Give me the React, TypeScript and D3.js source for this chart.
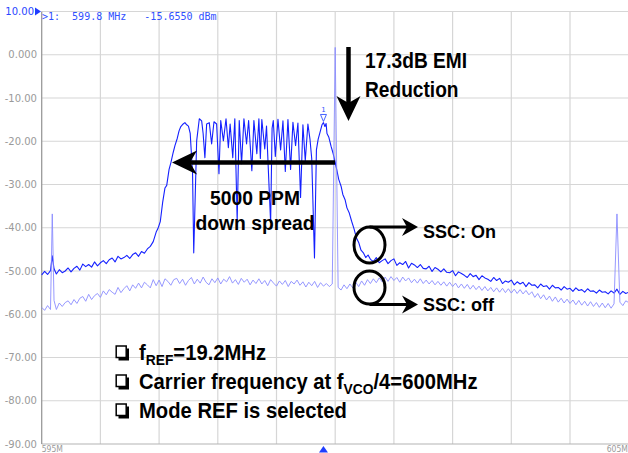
import React, { useEffect, useRef } from 'react';
import * as d3 from 'd3';

const W = 628;
const H = 453;

// axis ticks as the analyzer prints them
const levelTicks = [10, 0, -10, -20, -30, -40, -50, -60, -70, -80, -90];
const levelLabels = ['10.00', '0.000', '-10.00', '-20.00', '-30.00', '-40.00', '-50.00', '-60.00', '-70.00', '-80.00', '-90.00'];
const freqGrid = [596, 597, 598, 599, 600, 601, 602, 603, 604];
const freqLabels: [number, string][] = [[595, '595M'], [605, '605M']];

const markerReadout = '>1:  599.8 MHz   -15.6550 dBm';
const markerFreq = 599.8;
const markerLevel = -15.655;

// SSC on trace, [MHz, dBm]
const sscOnTrace: [number, number][] = [
  [595.00, -50.9], [595.05, -50.1], [595.10, -50.8], [595.15, -49.9], [595.18, -46.5], [595.21, -49.5], [595.25, -50.7], [595.30, -49.7],
  [595.35, -50.4], [595.40, -50.0], [595.45, -49.3], [595.50, -50.2], [595.55, -49.4], [595.60, -48.9], [595.65, -49.8], [595.70, -48.4],
  [595.75, -49.0], [595.80, -48.5], [595.85, -49.1], [595.90, -47.9], [595.95, -48.8], [596.00, -48.1], [596.05, -47.6], [596.10, -48.3],
  [596.15, -47.4], [596.20, -47.0], [596.25, -47.9], [596.30, -46.6], [596.35, -47.2], [596.40, -46.9], [596.45, -46.4], [596.50, -47.1],
  [596.55, -46.2], [596.60, -45.8], [596.65, -46.6], [596.70, -45.5], [596.75, -45.9], [596.80, -44.9], [596.85, -44.3],
  [596.90, -43.2], [596.95, -41.0], [596.98, -40.2], [597.02, -38.6], [597.06, -34.2], [597.10, -30.8], [597.13, -30.2], [597.17, -26.5],
  [597.20, -25.0], [597.24, -22.6], [597.27, -21.0], [597.31, -19.3], [597.34, -17.6], [597.37, -16.6], [597.41, -16.0], [597.44, -15.7],
  [597.47, -16.2], [597.50, -16.5], [597.53, -18.2], [597.57, -27.5], [597.59, -45.8], [597.64, -19.9],
  [597.685, -14.8], [597.725, -15.3], [597.75, -18.2], [597.78, -23.8], [597.81, -16.0], [597.855, -15.7], [597.895, -20.6], [597.935, -15.5],
  [597.98, -16.0], [598.02, -27.5], [598.05, -15.2], [598.095, -19.9], [598.14, -14.8], [598.18, -21.5], [598.21, -16.0], [598.255, -23.8],
  [598.29, -14.8], [598.33, -38.4], [598.365, -15.2], [598.405, -25.2], [598.445, -14.8], [598.49, -20.6], [598.525, -15.2], [598.58, -26.8],
  [598.615, -15.2], [598.665, -22.9], [598.70, -14.8], [598.725, -24.0], [598.75, -15.0], [598.80, -21.8], [598.83, -16.5], [598.87, -29.5],
  [598.90, -38.8], [598.925, -17.0], [598.945, -15.2], [598.98, -23.5], [599.025, -14.9], [599.07, -22.0], [599.11, -15.3], [599.15, -27.0],
  [599.195, -15.0], [599.24, -26.5], [599.28, -15.6], [599.325, -21.0], [599.365, -15.8], [599.41, -33.0], [599.45, -16.2], [599.49, -24.5],
  [599.535, -16.0], [599.57, -19.5], [599.60, -24.0], [599.647, -47.0], [599.68, -22.0], [599.71, -19.5], [599.74, -18.0], [599.775, -16.2],
  [599.80, -15.7], [599.825, -16.6], [599.845, -15.9], [599.86, -18.2], [599.89, -19.0], [599.93, -21.2], [599.96, -22.6], [600.00, -24.9],
  [600.03, -26.8], [600.06, -28.8], [600.10, -30.4], [600.13, -32.3], [600.17, -33.6], [600.20, -35.4], [600.24, -36.6], [600.28, -38.5],
  [600.32, -40.2], [600.36, -42.3], [600.40, -43.4], [600.44, -45.2], [600.48, -45.8], [600.52, -46.9], [600.56, -46.3], [600.60, -47.3],
  [600.65, -47.8], [600.70, -46.9], [600.75, -48.1], [600.80, -47.6], [600.85, -47.2], [600.90, -48.3], [600.95, -47.6], [601.00, -47.2],
  [601.05, -48.7], [601.10, -48.1], [601.15, -48.5], [601.20, -47.8], [601.25, -49.3], [601.30, -48.2], [601.35, -48.6], [601.40, -49.2],
  [601.45, -48.5], [601.50, -49.4], [601.55, -49.5], [601.60, -48.9], [601.65, -50.1], [601.70, -49.2], [601.75, -49.6], [601.80, -50.2],
  [601.85, -49.5], [601.90, -50.3], [601.95, -50.4], [602.00, -49.9], [602.05, -51.1], [602.10, -50.2], [602.15, -50.6], [602.20, -51.0],
  [602.25, -51.5], [602.30, -50.6], [602.35, -51.3], [602.40, -51.0], [602.45, -52.0], [602.50, -51.1], [602.55, -51.6], [602.60, -51.9],
  [602.65, -52.4], [602.70, -51.5], [602.75, -52.2], [602.80, -51.7], [602.85, -52.9], [602.90, -52.3], [602.95, -52.6], [603.00, -52.1],
  [603.05, -53.2], [603.10, -52.5], [603.15, -53.0], [603.20, -52.6], [603.25, -53.6], [603.30, -52.7], [603.35, -53.3], [603.40, -53.2],
  [603.45, -53.9], [603.50, -53.0], [603.55, -53.6], [603.60, -53.4], [603.65, -54.2], [603.70, -53.3], [603.75, -53.9], [603.80, -53.8],
  [603.85, -54.4], [603.90, -53.6], [603.95, -54.2], [604.00, -54.0], [604.05, -54.7], [604.10, -53.9], [604.15, -54.5], [604.20, -54.3],
  [604.25, -54.9], [604.30, -54.1], [604.35, -54.7], [604.40, -54.6], [604.45, -55.1], [604.50, -54.4], [604.55, -54.9], [604.60, -54.8],
  [604.65, -55.3], [604.70, -54.6], [604.75, -55.1], [604.80, -54.2], [604.85, -55.4], [604.90, -54.7], [604.95, -55.2], [605.00, -54.9],
];

// SSC off trace, [MHz, dBm]
const sscOffTrace: [number, number][] = [
  [595.00, -58.4], [595.05, -59.1], [595.10, -58.0], [595.15, -58.9], [595.18, -36.8], [595.21, -56.8], [595.25, -58.9], [595.30, -57.4],
  [595.35, -58.2], [595.40, -57.3], [595.45, -56.9], [595.50, -57.8], [595.55, -56.6], [595.60, -57.5], [595.65, -56.3], [595.70, -55.9],
  [595.75, -57.0], [595.80, -55.4], [595.85, -56.6], [595.90, -55.7], [595.95, -55.2], [596.00, -56.1], [596.05, -54.6], [596.10, -55.5],
  [596.15, -54.3], [596.20, -54.9], [596.25, -55.4], [596.30, -53.8], [596.35, -55.0], [596.40, -54.1], [596.45, -53.4], [596.50, -54.6],
  [596.55, -53.2], [596.60, -54.0], [596.65, -52.8], [596.70, -53.9], [596.75, -52.6], [596.80, -53.2], [596.85, -53.9], [596.90, -52.0],
  [596.95, -53.4], [597.00, -52.1], [597.05, -53.6], [597.10, -51.8], [597.15, -52.4], [597.20, -53.3], [597.25, -52.0], [597.30, -51.7],
  [597.35, -52.9], [597.40, -51.9], [597.45, -53.3], [597.50, -52.2], [597.55, -51.5], [597.60, -53.0], [597.65, -51.9], [597.70, -52.8],
  [597.75, -51.4], [597.80, -52.6], [597.85, -53.2], [597.90, -51.8], [597.95, -52.7], [598.00, -51.6], [598.05, -53.0], [598.10, -51.9],
  [598.15, -52.5], [598.20, -51.3], [598.25, -52.8], [598.30, -52.0], [598.35, -53.1], [598.40, -51.7], [598.45, -52.6], [598.50, -51.9],
  [598.55, -53.2], [598.60, -52.1], [598.65, -52.9], [598.70, -51.8], [598.75, -53.0], [598.80, -52.2], [598.85, -53.4], [598.90, -52.0],
  [598.95, -52.8], [599.00, -53.5], [599.05, -52.3], [599.10, -53.1], [599.15, -52.2], [599.20, -53.6], [599.25, -52.4], [599.30, -53.0],
  [599.35, -52.1], [599.40, -53.3], [599.45, -52.5], [599.50, -53.7], [599.55, -52.6], [599.60, -53.4], [599.65, -52.4], [599.70, -53.8],
  [599.75, -52.7], [599.80, -53.5], [599.85, -52.9], [599.90, -53.6], [599.95, -53.0], [600.00, 1.7], [600.05, -53.8], [600.10, -54.4],
  [600.15, -53.2], [600.20, -54.1], [600.25, -53.0], [600.30, -53.9], [600.35, -52.6], [600.40, -53.6], [600.45, -52.3], [600.50, -53.3],
  [600.55, -52.0], [600.60, -52.9], [600.65, -51.8], [600.70, -52.7], [600.75, -51.6], [600.80, -52.5], [600.85, -51.4], [600.90, -52.4],
  [600.95, -51.3], [601.00, -52.2], [601.05, -51.5], [601.10, -52.6], [601.15, -51.4], [601.20, -52.3], [601.25, -51.6], [601.30, -52.7],
  [601.35, -51.9], [601.40, -52.8], [601.45, -51.8], [601.50, -52.9], [601.55, -52.1], [601.60, -53.0], [601.65, -52.2], [601.70, -53.2],
  [601.75, -52.4], [601.80, -53.3], [601.85, -52.5], [601.90, -53.5], [601.95, -52.6], [602.00, -53.6], [602.05, -52.8], [602.10, -53.9],
  [602.15, -53.0], [602.20, -54.0], [602.25, -53.1], [602.30, -54.2], [602.35, -53.3], [602.40, -54.3], [602.45, -53.5], [602.50, -54.5],
  [602.55, -53.6], [602.60, -54.6], [602.65, -53.8], [602.70, -54.8], [602.75, -53.9], [602.80, -54.9], [602.85, -54.0], [602.90, -55.0],
  [602.95, -54.1], [603.00, -55.1], [603.05, -54.2], [603.10, -55.2], [603.15, -54.3], [603.20, -55.3], [603.25, -54.5], [603.30, -55.5],
  [603.35, -54.8], [603.40, -56.1], [603.45, -55.2], [603.50, -56.4], [603.55, -55.5], [603.60, -56.7], [603.65, -55.8], [603.70, -57.0],
  [603.75, -56.0], [603.80, -57.2], [603.85, -56.3], [603.90, -57.4], [603.95, -56.5], [604.00, -57.5], [604.05, -56.7], [604.10, -57.8],
  [604.15, -56.8], [604.20, -57.9], [604.25, -57.0], [604.30, -58.1], [604.35, -57.1], [604.40, -58.2], [604.45, -57.3], [604.50, -58.4],
  [604.55, -57.4], [604.60, -58.5], [604.65, -57.5], [604.70, -58.6], [604.75, -57.6], [604.80, -36.8], [604.85, -57.2], [604.90, -58.0],
  [604.95, -56.9], [605.00, -57.3],
];

// bullet notes, parts marked sub are subscripts
const notes = [
  [{ t: 'f' }, { t: 'REF', sub: true }, { t: '=19.2MHz' }],
  [{ t: 'Carrier frequency at f' }, { t: 'VCO', sub: true }, { t: '/4=600MHz' }],
  [{ t: 'Mode REF is selected' }],
];

const BOLD = 'Liberation Sans, Arial, sans-serif';

const App = () => {
  const svgRef = useRef<SVGSVGElement>(null);

  useEffect(() => {
    const svg = d3.select(svgRef.current);
    svg.selectAll('*').remove();

    const x = d3.scaleLinear().domain([595, 605]).range([41.7, 628.7]);
    const y = d3.scaleLinear().domain([10, -90]).range([11.5, 444]);

    svg.append('rect').attr('width', W).attr('height', H).attr('fill', '#fff');

    // grid
    const grid = svg.append('g');
    grid.selectAll('line.v').data(freqGrid).enter().append('line')
      .attr('x1', d => x(d)).attr('x2', d => x(d))
      .attr('y1', y(10)).attr('y2', y(-90))
      .attr('stroke', '#d6d6d6').attr('stroke-width', 1.2);
    grid.selectAll('line.h').data(levelTicks).enter().append('line')
      .attr('x1', x(595)).attr('x2', W)
      .attr('y1', d => y(d)).attr('y2', d => y(d))
      .attr('stroke', d => (d === -90 ? '#b4b4b4' : '#d6d6d6')).attr('stroke-width', 1.2);
    svg.append('line')
      .attr('x1', x(595)).attr('x2', x(595)).attr('y1', y(10)).attr('y2', y(-90))
      .attr('stroke', '#9a9a9a').attr('stroke-width', 1.3);

    // level labels
    svg.append('g').selectAll('text').data(levelTicks).enter().append('text')
      .attr('x', (d, i) => (i === 0 ? 34 : 37))
      .attr('y', d => y(d))
      .attr('dy', '0.35em')
      .attr('text-anchor', 'end')
      .attr('font-family', 'DejaVu Sans, sans-serif')
      .attr('font-size', 10)
      .attr('fill', (d, i) => (i === 0 ? '#2a46ff' : '#9a9a9a'))
      .text((d, i) => levelLabels[i]);

    // reference level marker
    svg.append('path').attr('d', 'M35,7.5 L41,11.5 L35,15.5 Z').attr('fill', '#1f3dff');

    // frequency labels
    svg.append('g').selectAll('text').data(freqLabels).enter().append('text')
      .attr('transform', d => `translate(${x(d[0]) + (d[0] === 595 ? 0 : -22)},452) scale(0.85,1)`)
      .attr('font-family', 'DejaVu Sans, sans-serif')
      .attr('font-size', 9)
      .attr('fill', '#9a9a9a')
      .text(d => d[1]);

    // center marker on the frequency axis
    const mx = x(markerFreq);
    svg.append('path').attr('d', `M${mx - 4.5},452.5 L${mx},446 L${mx + 4.5},452.5 Z`).attr('fill', '#1f3dff');

    // marker readout
    svg.append('text')
      .attr('x', 42).attr('y', 19.5)
      .attr('font-family', 'DejaVu Sans Mono, monospace')
      .attr('font-size', 10)
      .attr('fill', '#3050ff')
      .style('white-space', 'pre')
      .text(markerReadout);

    const line = d3.line<[number, number]>()
      .x(d => x(d[0]))
      .y(d => y(d[1]));

    svg.append('path').datum(sscOnTrace)
      .attr('d', line)
      .attr('fill', 'none')
      .attr('stroke', '#1420ff')
      .attr('stroke-width', 1.1)
      .attr('stroke-linejoin', 'round');

    svg.append('path').datum(sscOffTrace)
      .attr('d', line)
      .attr('fill', 'none')
      .attr('stroke', '#8a8cff')
      .attr('stroke-width', 0.9)
      .attr('stroke-linejoin', 'round');

    // marker 1 on the trace
    const my = y(markerLevel);
    svg.append('path')
      .attr('d', `M${mx - 3},${my - 8} L${mx + 3},${my - 8} L${mx},${my - 1} Z`)
      .attr('fill', 'none').attr('stroke', '#3050ff').attr('stroke-width', 0.9);
    svg.append('text')
      .attr('x', mx).attr('y', my - 10)
      .attr('text-anchor', 'middle')
      .attr('font-family', 'DejaVu Sans, sans-serif')
      .attr('font-size', 7)
      .attr('fill', '#3050ff')
      .text('1');

    // annotations
    const ann = svg.append('g').attr('fill', '#000');

    // horizontal spread arrow
    ann.append('line')
      .attr('x1', 186).attr('x2', 335).attr('y1', 162.5).attr('y2', 162.5)
      .attr('stroke', '#000').attr('stroke-width', 4.5);
    ann.append('path').attr('d', 'M172,162.5 L197,150.5 L190,162.5 L197,174.5 Z');

    // vertical EMI arrow
    ann.append('line')
      .attr('x1', 348.5).attr('x2', 348.5).attr('y1', 47).attr('y2', 108)
      .attr('stroke', '#000').attr('stroke-width', 4.5);
    ann.append('path').attr('d', 'M348.5,121 L336.5,96 L348.5,103 L360.5,96 Z');

    const bigText = (tx: number, ty: number, s: string, size: number, sx: number, anchor = 'start') => {
      ann.append('text')
        .attr('transform', `translate(${tx},${ty}) scale(${sx},1)`)
        .attr('text-anchor', anchor)
        .attr('font-family', BOLD)
        .attr('font-weight', 'bold')
        .attr('font-size', size)
        .text(s);
    };
    bigText(365, 68, '17.3dB EMI', 22, 0.87);
    bigText(365, 97, 'Reduction', 22, 0.87);
    bigText(255, 205, '5000 PPM', 21, 0.92, 'middle');
    bigText(255, 230, 'down spread', 21, 0.92, 'middle');

    // SSC circles and arrows
    ann.append('ellipse').attr('cx', 369.5).attr('cy', 245).attr('rx', 15.5).attr('ry', 18)
      .attr('fill', 'none').attr('stroke', '#000').attr('stroke-width', 3);
    ann.append('ellipse').attr('cx', 369.5).attr('cy', 287.5).attr('rx', 15.5).attr('ry', 16.5)
      .attr('fill', 'none').attr('stroke', '#000').attr('stroke-width', 3);
    ann.append('line').attr('x1', 369.5).attr('x2', 410).attr('y1', 227).attr('y2', 227)
      .attr('stroke', '#000').attr('stroke-width', 3);
    ann.append('path').attr('d', 'M418,227 L402,218 L407,227 L402,236 Z');
    ann.append('line').attr('x1', 369.5).attr('x2', 410).attr('y1', 304.5).attr('y2', 304.5)
      .attr('stroke', '#000').attr('stroke-width', 3);
    ann.append('path').attr('d', 'M418,304.5 L402,295.5 L407,304.5 L402,313.5 Z');
    bigText(423, 238, 'SSC: On', 18, 1);
    bigText(423, 311, 'SSC: off', 18, 1);

    // bullet notes
    notes.forEach((parts, i) => {
      const by = 360 + i * 29;
      ann.append('rect').attr('x', 118.5).attr('y', by - 11.5).attr('width', 10.5).attr('height', 12).attr('fill', '#000');
      ann.append('rect').attr('x', 116.2).attr('y', by - 14).attr('width', 10).attr('height', 11.5)
        .attr('fill', '#fff').attr('stroke', '#000').attr('stroke-width', 1.5);
      const t = ann.append('text')
        .attr('transform', `translate(139,${by}) scale(0.92,1)`)
        .attr('font-family', BOLD)
        .attr('font-weight', 'bold')
        .attr('font-size', 22);
      let shifted = false;
      parts.forEach((p: { t: string; sub?: boolean }) => {
        const ts = t.append('tspan').text(p.t);
        if (p.sub) {
          ts.attr('font-size', 15).attr('dy', 5);
          shifted = true;
        } else if (shifted) {
          ts.attr('dy', -5);
          shifted = false;
        }
      });
    });
  }, []);

  return (
    <svg
      ref={svgRef}
      width={W}
      height={H}
      style={{ position: 'absolute', left: 0, top: 0, display: 'block' }}
    />
  );
};

export default App;
